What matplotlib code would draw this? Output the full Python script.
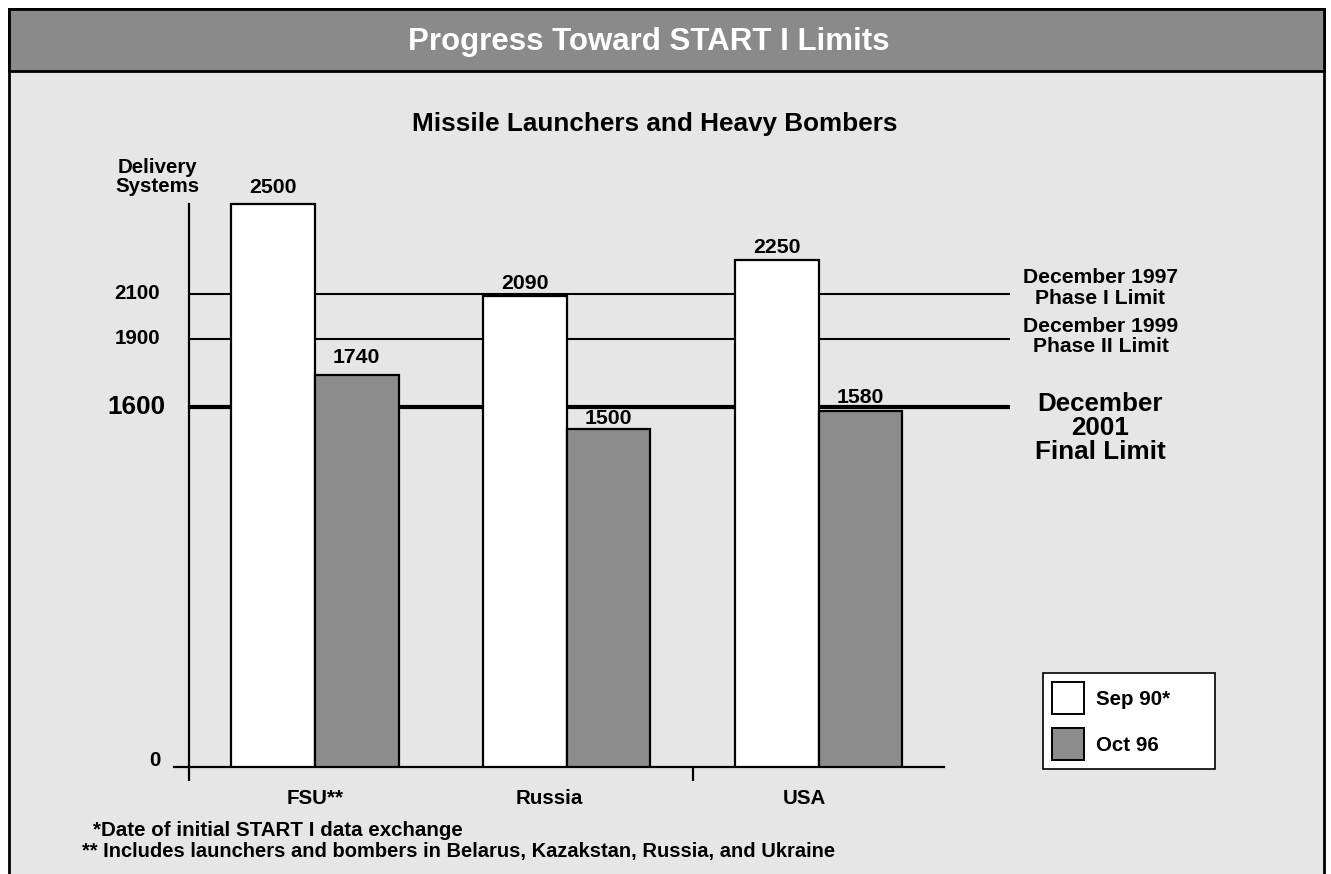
import matplotlib
matplotlib.use("Agg")
import matplotlib.pyplot as plt
from matplotlib.patches import Rectangle, Patch

plt.rcParams.update({'font.family': ['Liberation Sans', 'DejaVu Sans'], 'font.weight': 'bold'})

W, H = 1331, 874
PANEL = "#e6e6e6"; BAR_GRAY = "#8c8c8c"; HEAD = "#8a8a8a"
FS = 14.8  # body text size

# ---- data ----
categories = ["FSU**", "Russia", "USA"]
sep90 = [2500, 2090, 2250]
oct96 = [1740, 1500, 1580]
series_names = ["Sep 90*", "Oct 96"]
limit_values = [2100, 1900, 1600]
limit_labels = ["December 1997\nPhase I Limit", "December 1999\nPhase II Limit", "December\n2001\nFinal Limit"]
ytick_values = [0, 1600, 1900, 2100]
ytick_labels = ["0", "1600", "1900", "2100"]

def fx(x): return x / W
def fy(y): return 1 - y / H

fig = plt.figure(figsize=(W / 100, H / 100), dpi=100)
fig.patch.set_facecolor('white')

# panel + heading bar
fig.add_artist(Rectangle((fx(9), fy(900)), fx(1324) - fx(9), fy(9) - fy(900), transform=fig.transFigure,
                         facecolor=PANEL, edgecolor='black', lw=2, zorder=0))
fig.add_artist(Rectangle((fx(9), fy(71)), fx(1324) - fx(9), fy(9) - fy(71), transform=fig.transFigure,
                         facecolor=HEAD, edgecolor='black', lw=2, zorder=0))
fig.text(fx(649), fy(42), "Progress Toward START I Limits", color='white', fontsize=22.5,
         ha='center', va='center', fontweight='bold')
fig.text(fx(655), fy(124), "Missile Launchers and Heavy Bombers", fontsize=18.8,
         ha='center', va='center', fontweight='bold')

# axes: group centres 251.75 px apart, 0.2253 px per unit on y
x0_px, ux = 315, 251.75
y0_px, uy = 767, 0.2253
xlim = (-0.6, 2.8); ylim = (0, 2700)
left = x0_px + xlim[0] * ux; right = x0_px + xlim[1] * ux
top = y0_px - ylim[1] * uy
ax = fig.add_axes([fx(left), fy(y0_px), fx(right) - fx(left), fy(top) - fy(y0_px)])
ax.set_xlim(*xlim); ax.set_ylim(*ylim)
ax.patch.set_visible(False)

for s in ['top', 'right']:
    ax.spines[s].set_visible(False)
ax.spines['left'].set_position(('data', -0.5))
ax.spines['left'].set_bounds(0, 2500)
ax.spines['bottom'].set_bounds(-0.56, 2.5)
for s in ['left', 'bottom']:
    ax.spines[s].set_linewidth(1.6)

ax.set_xticks([-0.5, 1.5]); ax.set_xticklabels([])
ax.tick_params(axis='x', length=10, width=1.6, direction='out')
ax.set_yticks([])

# limit lines (behind bars)
for v, lw in zip(limit_values, [1.5, 1.5, 3]):
    ax.hlines(v, -0.5, 2.76, color='black', lw=lw, zorder=1)

bw = 0.332
xs = range(len(categories))
b1 = ax.bar([x - bw / 2 for x in xs], sep90, bw, color='white', edgecolor='black', lw=1.6, zorder=3)
b2 = ax.bar([x + bw / 2 for x in xs], oct96, bw, color=BAR_GRAY, edgecolor='black', lw=1.6, zorder=3)
# value labels, lifted a few pixels above each bar top
for bars, vals, lifts in [(b1, sep90, [11, 7, 7]), (b2, oct96, [12, 5, 8])]:
    for r, v, d in zip(bars, vals, lifts):
        ax.annotate(f"{v}", (r.get_x() + r.get_width() / 2, v), xytext=(0, d), textcoords='offset pixels',
                    ha='center', va='baseline', fontsize=FS + 0.5, fontweight='bold', zorder=5)

# y labels
for v, lab in zip(ytick_values, ytick_labels):
    big = v == 1600
    ax.annotate(lab, (-0.5, v), xytext=(-24 if big else -29, 0 if v else 1), textcoords='offset pixels',
                ha='right', va='baseline' if v == 0 else 'center', fontsize=18.8 if big else FS,
                fontweight='bold')
fig.text(fx(157), fy(177), "Delivery\nSystems", fontsize=FS, ha='center', va='center',
         linespacing=1.0, fontweight='bold')

# category labels
label_shift = [0.0, -0.07, -0.055]
for x, c, sh in zip(xs, categories, label_shift):
    ax.annotate(c, (x + sh, 0), xytext=(0, -31), textcoords='offset pixels', ha='center', va='center',
                fontsize=FS, fontweight='bold')

# limit labels
for v, lab, dy, fs in zip(limit_values, limit_labels, [6, 2.5, -21.5], [15.2, 15.2, 18.7]):
    ax.annotate(lab, (3.12, v), xytext=(0, dy), textcoords='offset pixels', ha='center', va='center',
                fontsize=fs, linespacing=1.0 if fs > 16 else 1.1, fontweight='bold', annotation_clip=False)

# legend
handles = [Patch(facecolor='white', edgecolor='black', lw=1.4, label=series_names[0]),
           Patch(facecolor=BAR_GRAY, edgecolor='black', lw=1.4, label=series_names[1])]
leg = fig.legend(handles=handles, loc='upper left',
                 bbox_to_anchor=(fx(1043), fy(768), fx(1215) - fx(1043), fy(673) - fy(768)),
                 mode='expand', borderaxespad=0, fontsize=FS, handlelength=1.55, handleheight=2.0,
                 labelspacing=0.7, borderpad=0.45, handletextpad=0.6, fancybox=False, framealpha=1)
leg.get_frame().set_edgecolor('black'); leg.get_frame().set_linewidth(1.2)
for t in leg.get_texts():
    t.set_fontweight('bold')

# footnotes
fig.text(fx(93), fy(830), "*Date of initial START I data exchange", fontsize=FS, va='center', fontweight='bold')
fig.text(fx(82), fy(851), "** Includes launchers and bombers in Belarus, Kazakstan, Russia, and Ukraine",
         fontsize=FS - 0.3, va='center', fontweight='bold')

fig.savefig("out.png", dpi=100, facecolor='white')
